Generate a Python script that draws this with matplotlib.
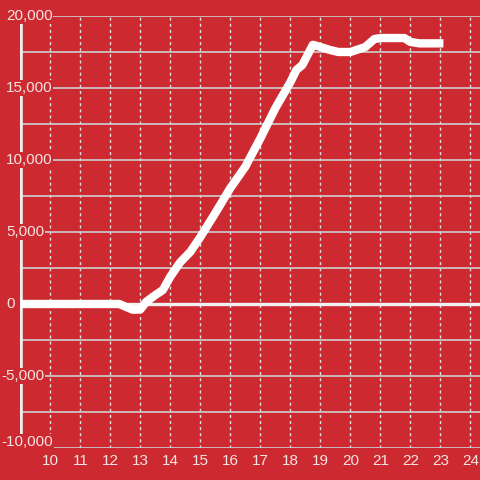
import matplotlib.pyplot as plt
from matplotlib.transforms import blended_transform_factory, offset_copy

# Datos
horas = [9, 12.3, 12.5, 12.75, 13.0, 13.2, 13.5, 13.75, 14.0, 14.33, 14.67, 15.0,
         15.5, 16.0, 16.5, 17.0, 17.5, 18.0, 18.2, 18.4, 18.75, 19.0, 19.3, 19.6,
         20.0, 20.5, 20.8, 21.0, 21.8, 22.0, 22.3, 23.1]
valores = [0, 0, -180, -400, -380, 160, 620, 970, 1900, 2900, 3630, 4650,
           6320, 8050, 9540, 11500, 13600, 15400, 16250, 16600, 18000, 17850, 17650, 17500,
           17500, 17850, 18400, 18470, 18470, 18200, 18100, 18100]
x_ticks = list(range(10, 25))
y_ticks = [-10000, -5000, 0, 5000, 10000, 15000, 20000]
y_grid = [-7500, -2500, 2500, 7500, 12500, 17500]

fondo = '#cc2a30'
texto = '#f4e4e4'

fig = plt.figure(figsize=(4.8, 4.8), dpi=100, facecolor=fondo)
ax = fig.add_axes([20.3 / 480, 32 / 480, 459.7 / 480, 432 / 480])
ax.set_facecolor(fondo)
ax.set_xlim(9.0, 24.32)
ax.set_ylim(-10000, 20000)

for s in ax.spines.values():
    s.set_visible(False)

# rejilla
ax.set_xticks(x_ticks)
ax.set_xticklabels([str(t) for t in x_ticks], color=texto, fontsize=11, family='Liberation Sans')
ax.set_yticks(y_ticks + y_grid)
ax.set_yticklabels([])
ax.tick_params(length=0, pad=4.5)
ax.grid(axis='y', color='#cfcfcf', lw=1.2)
ax.grid(axis='x', color='#e0e0e0', lw=1, linestyle=(0, (2.2, 2.2)))

# eje izquierdo y línea del cero
ax.axvline(9.03, color='#f0f0f0', lw=2.6, zorder=1.6)
ax.axhline(0, color='#f2f2f2', lw=2.4, zorder=1.7)

ax.plot(horas, valores, color='white', lw=6, solid_joinstyle='round',
        solid_capstyle='butt', zorder=3)

# etiquetas del eje y (el signo menos sobresale a la izquierda)
trans = blended_transform_factory(fig.transFigure, ax.transData)
for v in y_ticks:
    x0 = 1.5 if v < 0 else 6
    tr = offset_copy(trans, fig=fig, y=4.5, units='points') if v == y_ticks[0] else trans
    ax.text(x0 / 480, v, f"{v:,}", transform=tr, ha='left', va='center',
            color=texto, fontsize=11, family='Liberation Sans', zorder=5, clip_on=False,
            bbox=dict(boxstyle='square,pad=0.05', fc=fondo, ec='none'))

plt.savefig('out.png', dpi=100, facecolor=fondo)
